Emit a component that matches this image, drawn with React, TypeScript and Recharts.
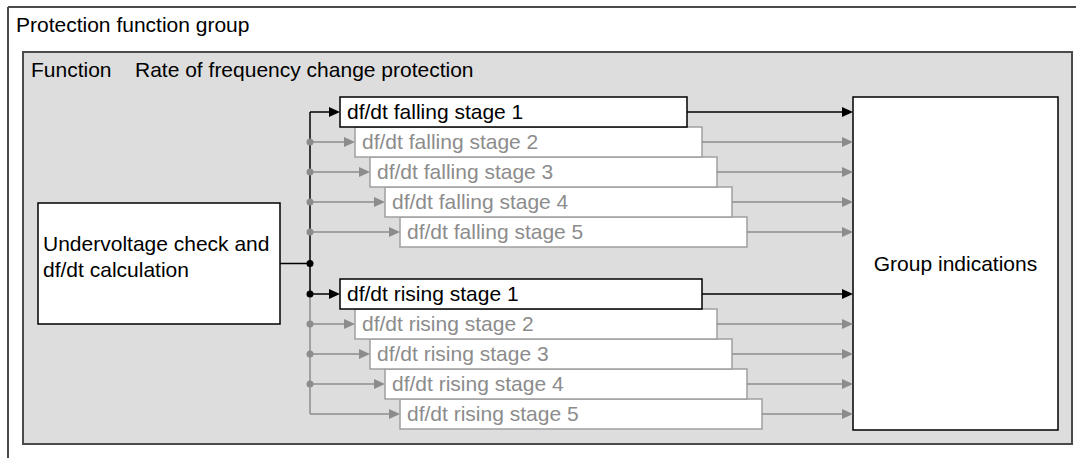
import { ComposedChart, XAxis, YAxis, ReferenceArea, ReferenceLine, Scatter } from "recharts";

// diagram content
const groupTitle = "Protection function group";
const functionKey = "Function";
const functionName = "Rate of frequency change protection";
const sourceBlock = ["Undervoltage check and", "df/dt calculation"];
const targetBlock = "Group indications";
const fallingStages = [
  "df/dt falling stage 1",
  "df/dt falling stage 2",
  "df/dt falling stage 3",
  "df/dt falling stage 4",
  "df/dt falling stage 5",
];
const risingStages = [
  "df/dt rising stage 1",
  "df/dt rising stage 2",
  "df/dt rising stage 3",
  "df/dt rising stage 4",
  "df/dt rising stage 5",
];
const activeStage = 0; // only stage 1 of each direction is drawn as enabled

// layout (data units == pixels)
const W = 1078;
const H = 458;
const FONT = "'Liberation Sans', Arial, sans-serif";
const FONT_SIZE = 21;
const BLACK = "#000000";
const GRAY = "#8c8c8c";
const BOX_GRAY = "#a0a0a0";
const FRAME_COLOR = "#4a4a4a";
const PANEL_FILL = "#dddddd";

const FRAME = { x1: 8, x2: W - 2, y1: 7, y2: H };
const PANEL = { x1: 23, x2: 1072, y1: 52, y2: 444 };
const SRC = { x1: 38, x2: 280, y1: 203, y2: 324 };
const DST = { x1: 853, x2: 1058, y1: 97, y2: 430 };
const BUS_X = 310;
const STAGE_X0 = 340;
const STAGE_DX = 15;
const ROW_H = 30;
const GROUPS = [
  { names: fallingStages, top: 97, width: 347 },
  { names: risingStages, top: 279, width: 362 },
];

const rows = GROUPS.flatMap((g, gi) =>
  g.names.map((name, i) => ({
    key: `${gi}-${i}`,
    name,
    group: gi,
    index: i,
    last: i === g.names.length - 1,
    x1: STAGE_X0 + i * STAGE_DX,
    x2: STAGE_X0 + i * STAGE_DX + g.width,
    y1: g.top + i * ROW_H,
    y2: g.top + (i + 1) * ROW_H,
    y: g.top + i * ROW_H + ROW_H / 2,
    active: i === activeStage,
  }))
);

const junctionY = (SRC.y1 + SRC.y2) / 2;
const fallRows = rows.filter((r) => r.group === 0);
const riseRows = rows.filter((r) => r.group === 1);
const riseActive = riseRows[activeStage];

const arrowHeads = [
  ...rows.map((r) => ({ x: r.x1, y: r.y, active: r.active })),
  ...rows.map((r) => ({ x: DST.x1, y: r.y, active: r.active })),
];
const junctions = [
  ...fallRows.filter((r) => !r.active).map((r) => ({ x: BUS_X, y: r.y, active: false })),
  { x: BUS_X, y: junctionY, active: true },
  ...riseRows.filter((r) => !r.last).map((r) => ({ x: BUS_X, y: r.y, active: r.active })),
];

const textLabel =
  (lines: string[], dx: number, dy: number, color: string, anchor: "start" | "middle" = "start") =>
  (props: any) => {
    const vb = props.viewBox || {};
    const x = anchor === "middle" ? vb.x + vb.width / 2 : vb.x + dx;
    return (
      <text x={x} y={vb.y + dy} fill={color} fontSize={FONT_SIZE} fontFamily={FONT} textAnchor={anchor}>
        {lines.map((l, i) => (
          <tspan key={i} x={x} dy={i ? 26 : 0}>
            {l}
          </tspan>
        ))}
      </text>
    );
  };

const panelLabel = (props: any) => {
  const vb = props.viewBox || {};
  return (
    <text y={vb.y + 25} fill={BLACK} fontSize={FONT_SIZE} fontFamily={FONT}>
      <tspan x={vb.x + 8}>{functionKey}</tspan>
      <tspan x={vb.x + 112}>{functionName}</tspan>
    </text>
  );
};

const Arrow = (props: any) => {
  const { cx, cy, payload } = props;
  const c = payload.active ? BLACK : GRAY;
  return <polygon points={`${cx - 11},${cy - 5} ${cx},${cy} ${cx - 11},${cy + 5}`} fill={c} />;
};

const Dot = (props: any) => {
  const { cx, cy, payload } = props;
  return <circle cx={cx} cy={cy} r={3.5} fill={payload.active ? BLACK : GRAY} />;
};

export default function App() {
  const drawOrder = [...fallRows].reverse().concat([...riseRows].reverse());
  return (
    <div
      style={{
        position: "fixed",
        left: 0,
        top: 0,
        width: W,
        height: H,
        overflow: "hidden",
        background: "#fff",
      }}
    >
      <ComposedChart width={W} height={H} margin={{ top: 0, right: 0, bottom: 0, left: 0 }}>
        <XAxis type="number" dataKey="x" domain={[0, W]} hide allowDataOverflow />
        <YAxis type="number" dataKey="y" domain={[0, H]} reversed hide allowDataOverflow />

        <ReferenceArea
          x1={FRAME.x1}
          x2={PANEL.x1 + 300}
          y1={FRAME.y1}
          y2={PANEL.y1}
          fill="none"
          stroke="none"
          strokeWidth={0}
          label={textLabel([groupTitle], 8, 25, BLACK)}
        />
        <ReferenceLine segment={[{ x: FRAME.x1, y: FRAME.y1 }, { x: FRAME.x2, y: FRAME.y1 }]} stroke={FRAME_COLOR} strokeWidth={2} />
        <ReferenceLine segment={[{ x: FRAME.x1, y: FRAME.y1 }, { x: FRAME.x1, y: FRAME.y2 }]} stroke={FRAME_COLOR} strokeWidth={2} />

        <ReferenceArea
          x1={PANEL.x1}
          x2={PANEL.x2}
          y1={PANEL.y1}
          y2={PANEL.y2}
          fill={PANEL_FILL}
          fillOpacity={1}
          stroke={FRAME_COLOR}
          strokeWidth={2}
          label={panelLabel}
        />

        <ReferenceArea
          x1={SRC.x1}
          x2={SRC.x2}
          y1={SRC.y1}
          y2={SRC.y2}
          fill="#ffffff"
          fillOpacity={1}
          stroke={BLACK}
          strokeWidth={1.5}
          label={textLabel(sourceBlock, 5, 48, BLACK)}
        />
        <ReferenceArea
          x1={DST.x1}
          x2={DST.x2}
          y1={DST.y1}
          y2={DST.y2}
          fill="#ffffff"
          fillOpacity={1}
          stroke={BLACK}
          strokeWidth={1.5}
          label={textLabel([targetBlock], 0, 174, BLACK, "middle")}
        />

        {/* bus and connections */}
        <ReferenceLine segment={[{ x: SRC.x2, y: junctionY }, { x: BUS_X, y: junctionY }]} stroke={BLACK} strokeWidth={1.5} />
        <ReferenceLine segment={[{ x: BUS_X, y: riseActive.y }, { x: BUS_X, y: riseRows[riseRows.length - 1].y }]} stroke={GRAY} strokeWidth={1.5} />
        <ReferenceLine segment={[{ x: BUS_X, y: fallRows[0].y }, { x: BUS_X, y: riseActive.y }]} stroke={BLACK} strokeWidth={1.5} />

        {rows.map((r) => (
          <ReferenceLine
            key={`in-${r.key}`}
            segment={[{ x: BUS_X, y: r.y }, { x: r.x1 - 6, y: r.y }]}
            stroke={r.active ? BLACK : GRAY}
            strokeWidth={1.5}
          />
        ))}
        {rows.map((r) => (
          <ReferenceLine
            key={`out-${r.key}`}
            segment={[{ x: r.x2, y: r.y }, { x: DST.x1 - 6, y: r.y }]}
            stroke={r.active ? BLACK : GRAY}
            strokeWidth={1.5}
          />
        ))}

        {drawOrder.map((r) => (
          <ReferenceArea
            key={`box-${r.key}`}
            x1={r.x1}
            x2={r.x2}
            y1={r.y1}
            y2={r.y2}
            fill="#ffffff"
            fillOpacity={1}
            stroke={r.active ? BLACK : BOX_GRAY}
            strokeWidth={1.5}
            label={textLabel([r.name], 7, 22, r.active ? BLACK : GRAY)}
          />
        ))}

        <Scatter data={arrowHeads} shape={Arrow} isAnimationActive={false} />
        <Scatter data={junctions} shape={Dot} isAnimationActive={false} />
      </ComposedChart>
    </div>
  );
}
